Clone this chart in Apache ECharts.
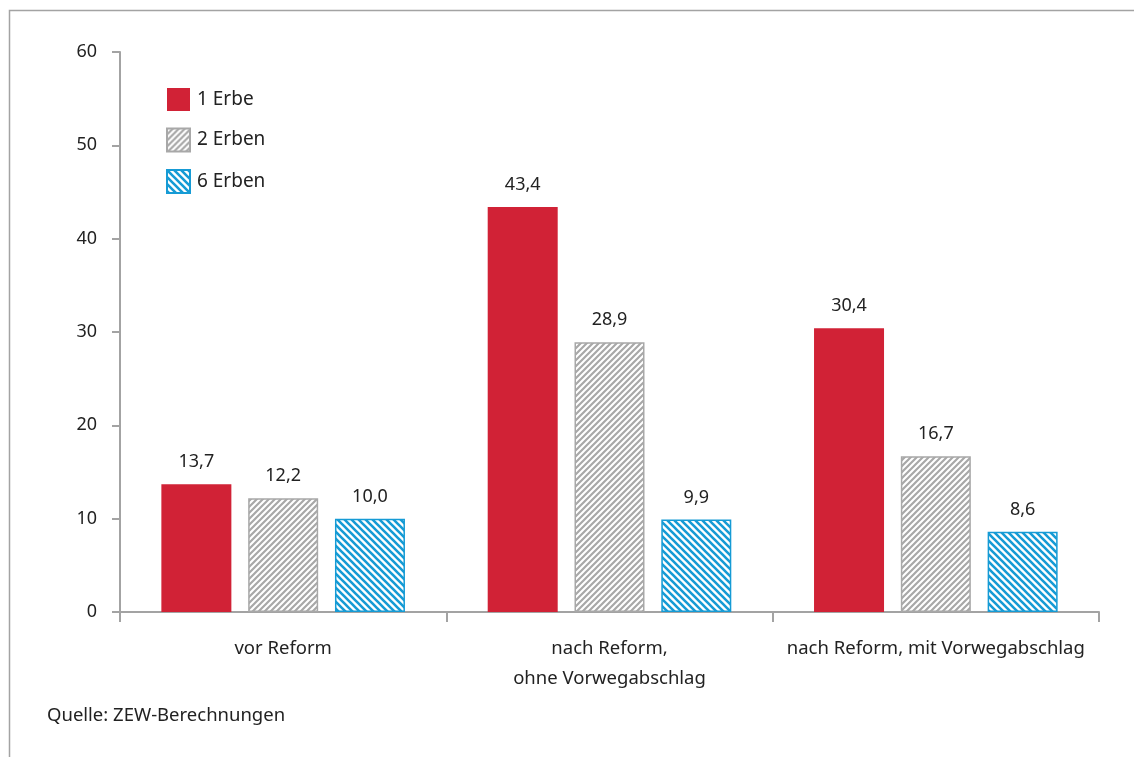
<!DOCTYPE html>
<html>
<head>
<meta charset="utf-8">
<script src="https://cdn.jsdelivr.net/npm/echarts@6/dist/echarts.min.js"></script>
<style>
  html, body { margin: 0; padding: 0; background: #fff; }
  #chart { width: 1134px; height: 757px; }
</style>
</head>
<body>
<div id="chart"></div>
<script>
const categories = ['vor Reform', 'nach Reform,\nohne Vorwegabschlag', 'nach Reform, mit Vorwegabschlag']
const seriesNames = ['1 Erbe', '2 Erben', '6 Erben']
const erbe1 = [13.7, 43.4, 30.4]
const erben2 = [12.2, 28.9, 16.7]
const erben6 = [10.0, 9.9, 8.6]
const yTicks = [0, 10, 20, 30, 40, 50, 60]
const sourceText = 'Quelle: ZEW-Berechnungen'

const FONT = '"Noto Sans", sans-serif'
const TEXT = '#222'
const AXIS = '#a3a3a3'

// diagonal stripe pattern, dir 1 = "/", -1 = "\"
const stripes = (color, dir, size, width) => {
  const c = document.createElement('canvas')
  c.width = size
  c.height = size
  const ctx = c.getContext('2d')
  ctx.fillStyle = '#fff'
  ctx.fillRect(0, 0, size, size)
  ctx.strokeStyle = color
  ctx.lineWidth = width
  ctx.beginPath()
  for (let k = -1; k <= 1; k++) {
    if (dir > 0) {
      ctx.moveTo(k * size - 1, size + 1)
      ctx.lineTo(k * size + size + 1, -1)
    } else {
      ctx.moveTo(k * size - 1, -1)
      ctx.lineTo(k * size + size + 1, size + 1)
    }
  }
  ctx.stroke()
  return { image: c, repeat: 'repeat' }
}

const grayFill = stripes('#a8a8a8', 1, 6, 2.2)
const blueFill = stripes('#169bd5', -1, 7, 2.6)

const label = {
  show: true,
  position: 'top',
  distance: 13,
  color: TEXT,
  fontFamily: FONT,
  fontSize: 18,
  formatter: p => p.value.toFixed(1).replace('.', ',')
}

const chart = echarts.init(document.getElementById('chart'))
const option = {
  animation: false,
  backgroundColor: '#fff',
  textStyle: { fontFamily: FONT },
  grid: { left: 120, right: 35, top: 52, bottom: 145, containLabel: false },
  legend: {
    orient: 'vertical',
    left: 161,
    top: 83,
    icon: 'rect',
    itemWidth: 23,
    itemHeight: 23,
    itemGap: 16.5,
    textStyle: { color: TEXT, fontSize: 19, lineHeight: 23, fontFamily: FONT, padding: [0, 0, 0, 2] },
    data: seriesNames
  },
  xAxis: {
    type: 'category',
    data: categories,
    axisLine: { lineStyle: { color: AXIS, width: 2 } },
    axisTick: { show: true, length: 10, lineStyle: { color: AXIS, width: 2 } },
    axisLabel: { color: TEXT, fontSize: 18.5, fontFamily: FONT, margin: 22, lineHeight: 30, interval: 0 }
  },
  yAxis: {
    type: 'value',
    min: yTicks[0],
    max: yTicks[yTicks.length - 1],
    interval: 10,
    splitLine: { show: false },
    axisLine: { show: true, lineStyle: { color: AXIS, width: 2 } },
    axisTick: { show: true, length: 8, lineStyle: { color: AXIS, width: 2 } },
    axisLabel: { color: TEXT, fontSize: 18, fontFamily: FONT, margin: 23 }
  },
  series: [
    {
      name: seriesNames[0],
      type: 'bar',
      data: erbe1,
      barWidth: 70,
      barGap: '24%',
      itemStyle: { color: '#d12236' },
      label
    },
    {
      name: seriesNames[1],
      type: 'bar',
      data: erben2,
      barWidth: 70,
      barGap: '24%',
      itemStyle: { color: grayFill, borderColor: '#a8a8a8', borderWidth: 1.5 },
      label
    },
    {
      name: seriesNames[2],
      type: 'bar',
      data: erben6,
      barWidth: 70,
      barGap: '24%',
      itemStyle: { color: blueFill, borderColor: '#169bd5', borderWidth: 1.5 },
      label
    }
  ],
  graphic: [
    {
      type: 'polyline',
      silent: true,
      shape: { points: [[9.5, 757], [9.5, 10.5], [1134, 10.5]] },
      style: { stroke: '#a3a3a3', lineWidth: 1.5, fill: null }
    },
    {
      type: 'text',
      left: 47,
      top: 706,
      style: { text: sourceText, fill: TEXT, fontSize: 18.5, fontFamily: FONT }
    }
  ]
}
option && chart.setOption(option)
</script>
</body>
</html>
